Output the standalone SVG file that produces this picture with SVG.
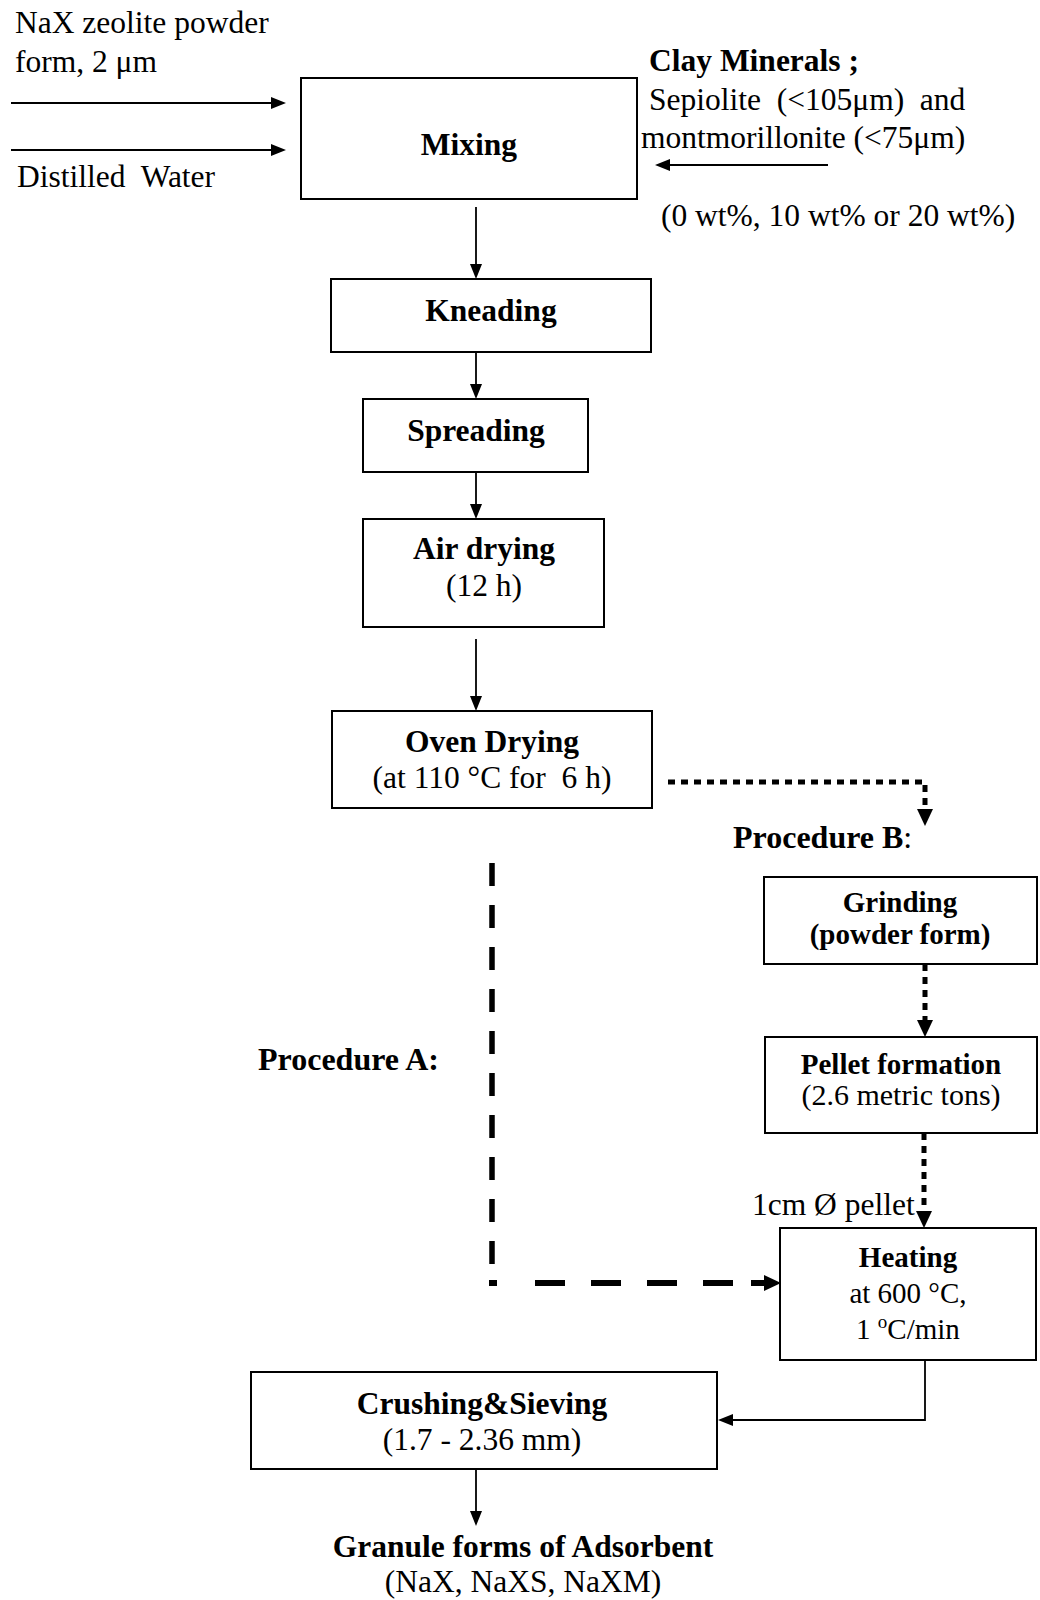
<svg xmlns="http://www.w3.org/2000/svg" width="1040" height="1600" viewBox="0 0 1040 1600">
<style>
text{font-family:"Liberation Serif","Times New Roman",serif;fill:#000;white-space:pre}
.r{font-size:31.5px}
.b{font-size:31.5px;font-weight:bold}
.rs{font-size:29px}
.bs{font-size:29px;font-weight:bold}
.m{text-anchor:middle}
.box{fill:#fff;stroke:#000;stroke-width:2}
.thin{fill:none;stroke:#000;stroke-width:1.8}
.dot{fill:none;stroke:#000;stroke-width:5;stroke-dasharray:7 6}
.dash{fill:none;stroke:#000;stroke-width:6}
</style>
<defs>
<marker id="ah" markerUnits="userSpaceOnUse" markerWidth="16" markerHeight="14" refX="0" refY="6" orient="auto" overflow="visible"><path d="M0,0 L15,6 L0,12 z" fill="#000"/></marker>
<marker id="ahb" markerUnits="userSpaceOnUse" markerWidth="18" markerHeight="18" refX="0" refY="8" orient="auto" overflow="visible"><path d="M0,0 L17,8 L0,16 z" fill="#000"/></marker>
</defs>
<rect width="1040" height="1600" fill="#fff"/>

<g id="inputs">
<text class="r" x="15" y="33">NaX zeolite powder</text>
<text class="r" x="15" y="72">form, 2 μm</text>
<text class="r" x="17" y="187">Distilled  Water</text>
<text class="b" x="649" y="71">Clay Minerals ;</text>
<text class="r" x="649" y="110">Sepiolite  (&lt;105μm)  and</text>
<text class="r" x="641" y="148">montmorillonite (&lt;75μm)</text>
<text class="r" x="661" y="226">(0 wt%, 10 wt% or 20 wt%)</text>
</g>

<g id="connectors">
<path class="thin" d="M11,103 H271" marker-end="url(#ah)"/>
<path class="thin" d="M11,150 H271" marker-end="url(#ah)"/>
<path class="thin" d="M828,165 H670" marker-end="url(#ah)"/>
<path class="thin" d="M476,207 V264" marker-end="url(#ah)"/>
<path class="thin" d="M476,352 V384" marker-end="url(#ah)"/>
<path class="thin" d="M476,472 V504" marker-end="url(#ah)"/>
<path class="thin" d="M476,639 V696" marker-end="url(#ah)"/>
<path class="dot" d="M668,782 H925 V809" marker-end="url(#ahb)"/>
<path class="dot" d="M925,964 V1020" marker-end="url(#ahb)"/>
<path class="dot" d="M924,1133 V1211" marker-end="url(#ahb)"/>
<path class="dash" d="M492,863 V1265" style="stroke-width:5.5;stroke-dasharray:23 19"/>
<path class="dash" d="M489,1283 H764" style="stroke-dasharray:8 38 30 26 30 26 30 26 30 18 30"/>
<path d="M764,1275 L781,1283 L764,1291 z" fill="#000"/>
<path class="thin" d="M925,1360 V1420 H733" marker-end="url(#ah)"/>
<path class="thin" d="M476,1469 V1511" marker-end="url(#ah)"/>
</g>

<g id="mixing">
<rect class="box" x="301" y="78" width="336" height="121"/>
<text class="b m" x="469" y="155">Mixing</text>
</g>
<g id="kneading">
<rect class="box" x="331" y="279" width="320" height="73"/>
<text class="b m" x="491" y="321">Kneading</text>
</g>
<g id="spreading">
<rect class="box" x="363" y="399" width="225" height="73"/>
<text class="b m" x="476" y="441">Spreading</text>
</g>
<g id="air-drying">
<rect class="box" x="363" y="519" width="241" height="108"/>
<text class="b m" x="484" y="559">Air drying</text>
<text class="r m" x="484" y="596">(12 h)</text>
</g>
<g id="oven-drying">
<rect class="box" x="332" y="711" width="320" height="97"/>
<text class="b m" x="492" y="752">Oven Drying</text>
<text class="r m" x="492" y="788">(at 110 °C for  6 h)</text>
</g>
<g id="procedure-b">
<text x="733" y="848" style="font-size:32px"><tspan font-weight="bold">Procedure B</tspan>:</text>
</g>
<g id="procedure-a">
<text class="b" x="258" y="1070" style="font-size:32px">Procedure A:</text>
</g>
<g id="grinding">
<rect class="box" x="764" y="877" width="273" height="87"/>
<text class="bs m" x="900" y="912">Grinding</text>
<text class="bs m" x="900" y="944">(powder form)</text>
</g>
<g id="pellet-formation">
<rect class="box" x="765" y="1037" width="272" height="96"/>
<text class="bs m" x="901" y="1074">Pellet formation</text>
<text class="rs m" x="901" y="1105" style="font-size:30px">(2.6 metric tons)</text>
</g>
<g id="pellet-label">
<text class="r" x="752" y="1215">1cm Ø pellet</text>
</g>
<g id="heating">
<rect class="box" x="780" y="1228" width="256" height="132"/>
<text class="bs m" x="908" y="1267">Heating</text>
<text class="rs m" x="908" y="1303">at 600 °C,</text>
<text class="rs m" x="908" y="1339">1 <tspan dy="-11" style="font-size:19px">o</tspan><tspan dy="11">C/min</tspan></text>
</g>
<g id="crushing-sieving">
<rect class="box" x="251" y="1372" width="466" height="97"/>
<text class="b m" x="482" y="1414">Crushing&amp;Sieving</text>
<text class="r m" x="482" y="1450">(1.7 - 2.36 mm)</text>
</g>
<g id="granule-output">
<text class="b m" x="523" y="1557">Granule forms of Adsorbent</text>
<text class="r m" x="523" y="1592">(NaX, NaXS, NaXM)</text>
</g>
</svg>
